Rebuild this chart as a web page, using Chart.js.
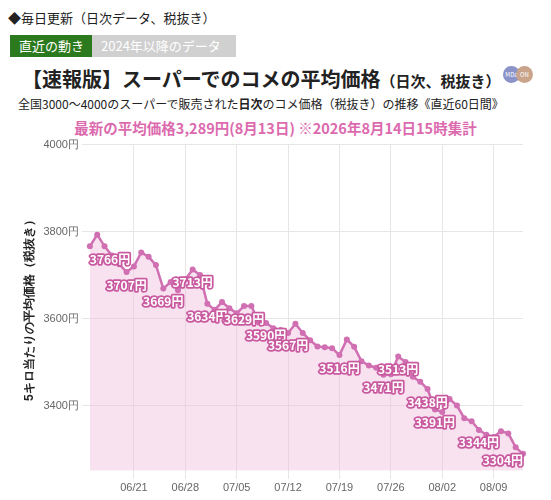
<!DOCTYPE html>
<html><head><meta charset="utf-8">
<script src="https://cdn.jsdelivr.net/npm/chart.js@4"></script>
<style>
body{margin:0;width:551px;height:500px;font-family:"Noto Sans CJK JP","Noto Sans",sans-serif;background:#fff;color:#222;overflow:hidden;position:relative}
.l1{position:absolute;left:8px;top:8px;font-size:13px}
.tab{position:absolute;top:35px;height:22px;line-height:22px;font-size:13px;color:#fff;padding:0 9px}
.t1{left:10px;background:#2c7a1e}
.t2{left:92px;background:#d0d0d0;width:126px}
.title{position:absolute;left:22px;top:64px;font-size:20px;font-weight:bold}
.title small{font-size:15px}
.sub{position:absolute;left:18px;top:95px;font-size:12px}
.pink{position:absolute;left:0;width:551px;text-align:center;top:117px;font-size:14.5px;font-weight:bold;color:#dc6aae}
.logo{position:absolute;top:66px;width:17px;height:17px;border-radius:50%;background:#8b93c8;font-size:6px;color:#fff;text-align:center;line-height:17px}
#wrap{position:absolute;left:0;top:135px;width:551px;height:365px}
</style></head><body>
<div class="l1">◆毎日更新（日次データ、税抜き）</div>
<div class="tab t1">直近の動き</div>
<div class="tab t2">2024年以降のデータ</div>
<div class="title">【速報版】スーパーでのコメの平均価格<small>（日次、税抜き）</small></div>
<div class="logo" style="left:503px">MDa</div><div class="logo" style="left:516px;background:#c9a48a">ON</div>
<div class="sub">全国3000〜4000のスーパーで販売された<b>日次</b>のコメ価格（税抜き）の推移《直近60日間》</div>
<div class="pink">最新の平均価格3,289円(8月13日) ※2026年8月14日15時集計</div>
<div id="wrap"><canvas id="c"></canvas></div>
<script>
// 06/15 .. 08/13 daily prices
const startDate = new Date(2026, 5, 15);
const prices = [3766,3793,3766,3745,3725,3707,3720,3752,3742,3723,
  3669,3684,3665,3690,3713,3700,3634,3620,3638,3624,
  3612,3629,3629,3591,3590,3578,3574,3567,3588,3567,
  3550,3536,3534,3532,3516,3552,3535,3502,3492,3487,
  3471,3472,3513,3500,3466,3455,3438,3391,3385,3415,
  3400,3371,3364,3344,3333,3328,3341,3336,3304,3289];
const labelIdx = [0,5,10,14,16,21,24,27,34,40,42,46,47,53,58];
const tickLabels = ['06/21','06/28','07/05','07/12','07/19','07/26','08/02','08/09'];

const dates = prices.map((p, i) => {
  const d = new Date(startDate); d.setDate(d.getDate() + i);
  return String(d.getMonth() + 1).padStart(2, '0') + '/' + String(d.getDate()).padStart(2, '0');
});

const pointLabels = {
  id: 'pointLabels',
  afterDatasetsDraw(chart) {
    const ctx = chart.ctx, meta = chart.getDatasetMeta(0), area = chart.chartArea;
    ctx.save();
    ctx.font = 'bold 12px "Noto Sans CJK JP"';
    ctx.textAlign = 'center'; ctx.textBaseline = 'middle';
    ctx.lineJoin = 'round';
    labelIdx.forEach(i => {
      const pt = meta.data[i], txt = prices[i] + '円';
      const w = ctx.measureText(txt).width;
      let x = Math.max(area.left + w / 2, Math.min(area.right - w / 2, pt.x));
      const y = pt.y + 13;
      ctx.lineWidth = 3.5; ctx.strokeStyle = '#c95aa0'; ctx.strokeText(txt, x, y);
      ctx.fillStyle = '#fff'; ctx.fillText(txt, x, y);
    });
    ctx.restore();
  }
};

new Chart(document.getElementById('c'), {
  type: 'line',
  data: {
    labels: dates,
    datasets: [{
      data: prices,
      borderColor: '#d070b2',
      backgroundColor: 'rgba(240,190,222,0.45)',
      fill: 'start',
      borderWidth: 2.5,
      pointRadius: 3,
      pointBackgroundColor: '#d070b2',
      pointBorderWidth: 0,
      tension: 0
    }]
  },
  options: {
    responsive: true, maintainAspectRatio: false, animation: false,
    layout: { padding: { left: 18, right: 28, top: 0, bottom: 2 } },
    plugins: { legend: { display: false }, tooltip: { enabled: false } },
    scales: {
      x: {
        offset: false,
        grid: { color: '#e6e6e6' },
        border: { display: false },
        ticks: {
          autoSkip: false, maxRotation: 0, color: '#666', font: { size: 11 },
          callback: function(v) { const l = this.getLabelForValue(v); return tickLabels.includes(l) ? l : null; }
        }
      },
      y: {
        min: 3250, max: 4000,
        afterBuildTicks: ax => { ax.ticks = [3400, 3600, 3800, 4000].map(v => ({ value: v })); },
        grid: { color: '#e6e6e6' },
        border: { display: false },
        ticks: { color: '#666', font: { size: 11 }, callback: v => v + '円' },
        title: { display: true, text: '5キロ当たりの平均価格（税抜き）', color: '#222', font: { size: 12, weight: 'bold' } }
      }
    }
  },
  plugins: [pointLabels]
});
</script>
</body></html>
